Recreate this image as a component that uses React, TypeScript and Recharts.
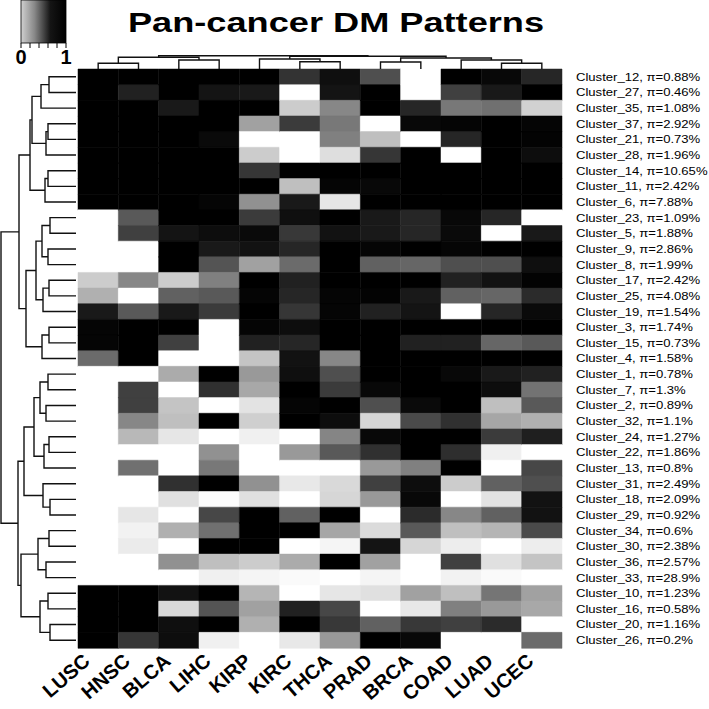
import React from 'react'
import { BarChart, Bar, Cell, XAxis, YAxis, ScatterChart, Scatter } from 'recharts'

const cancers = ['LUSC', 'HNSC', 'BLCA', 'LIHC', 'KIRP', 'KIRC', 'THCA', 'PRAD', 'BRCA', 'COAD', 'LUAD', 'UCEC']

const clusters = [
  'Cluster_12, π=0.88%', 'Cluster_27, π=0.46%', 'Cluster_35, π=1.08%', 'Cluster_37, π=2.92%',
  'Cluster_21, π=0.73%', 'Cluster_28, π=1.96%', 'Cluster_14, π=10.65%', 'Cluster_11, π=2.42%',
  'Cluster_6, π=7.88%', 'Cluster_23, π=1.09%', 'Cluster_5, π=1.88%', 'Cluster_9, π=2.86%',
  'Cluster_8, π=1.99%', 'Cluster_17, π=2.42%', 'Cluster_25, π=4.08%', 'Cluster_19, π=1.54%',
  'Cluster_3, π=1.74%', 'Cluster_15, π=0.73%', 'Cluster_4, π=1.58%', 'Cluster_1, π=0.78%',
  'Cluster_7, π=1.3%', 'Cluster_2, π=0.89%', 'Cluster_32, π=1.1%', 'Cluster_24, π=1.27%',
  'Cluster_22, π=1.86%', 'Cluster_13, π=0.8%', 'Cluster_31, π=2.49%', 'Cluster_18, π=2.09%',
  'Cluster_29, π=0.92%', 'Cluster_34, π=0.6%', 'Cluster_30, π=2.38%', 'Cluster_36, π=2.57%',
  'Cluster_33, π=28.9%', 'Cluster_10, π=1.23%', 'Cluster_16, π=0.58%', 'Cluster_20, π=1.16%',
  'Cluster_26, π=0.2%',
]

// methylation level per cluster (rows) and cancer type (columns), 0 = white, 1 = black
const levels: number[][] = [
  [1, 1, 1, 1, 1, 0.8, 0.94, 0.69, 0, 1, 0.97, 0.85],
  [1, 0.87, 1, 0.92, 0.9, 0, 0.92, 1, 0, 0.75, 0.9, 1],
  [1, 1, 0.9, 1, 1, 0.2, 0.47, 1, 0.85, 0.53, 0.56, 0.18],
  [1, 1, 1, 1, 0.37, 0.77, 0.53, 0, 0.97, 0.98, 1, 0.98],
  [1, 1, 1, 0.96, 0, 0, 0.5, 0.25, 0, 0.85, 1, 0.99],
  [1, 1, 1, 1, 0.2, 0, 0.13, 0.79, 1, 0, 1, 0.95],
  [1, 1, 1, 1, 0.79, 1, 1, 1, 1, 1, 1, 1],
  [1, 1, 1, 1, 1, 0.25, 0.98, 0.97, 1, 1, 1, 1],
  [1, 1, 1, 0.98, 0.43, 0.9, 0.1, 1, 1, 1, 1, 1],
  [0, 0.65, 1, 1, 0.77, 0.94, 1, 0.9, 0.85, 0.97, 0.85, 0],
  [0, 0.75, 0.92, 0.95, 0.96, 0.78, 0.93, 0.9, 0.85, 0.96, 0, 0.9],
  [0, 0, 1, 0.9, 0.93, 0.85, 1, 0.98, 1, 0.98, 1, 1],
  [0, 0, 1, 0.67, 0.37, 0.58, 1, 0.62, 0.6, 0.69, 0.69, 0.94],
  [0.2, 0.47, 0.2, 0.5, 1, 0.87, 1, 1, 1, 0.87, 0.93, 0.99],
  [0.31, 0, 0.62, 0.65, 0.98, 0.85, 0.98, 0.99, 0.9, 0.62, 0.6, 0.83],
  [0.9, 0.65, 0.9, 0.77, 1, 0.79, 0.98, 0.87, 0.92, 0, 0.85, 0.96],
  [0.98, 1, 1, 0, 0.98, 0.95, 1, 1, 1, 1, 1, 1],
  [0.98, 1, 0.75, 0, 0.87, 0.85, 1, 1, 0.87, 0.87, 0.6, 0.65],
  [0.58, 1, 0, 0, 0.23, 0.93, 0.47, 1, 1, 1, 1, 1],
  [0, 0, 0.33, 1, 0.4, 0.94, 0.69, 1, 1, 0.97, 0.9, 0.87],
  [0, 0.75, 0, 0.81, 0.34, 1, 0.77, 0.97, 1, 1, 0.95, 0.55],
  [0, 0.75, 0.23, 0, 0.11, 0.98, 1, 0.69, 0.96, 1, 0.25, 0.65],
  [0, 0.47, 0.25, 1, 0.19, 1, 0.95, 0.16, 0.71, 0.81, 0.35, 0.31],
  [0, 0.28, 0.1, 0, 0.06, 0, 0.48, 0.97, 1, 1, 0.77, 0.88],
  [0, 0, 0, 0.43, 0, 0.4, 0.65, 0.81, 1, 0.82, 0.06, 0],
  [0, 0.56, 0, 0.53, 0, 0, 0, 0.4, 0.5, 1, 0, 0.72],
  [0, 0, 0.81, 1, 0.43, 0.09, 0.15, 0.75, 0.95, 0.2, 0.62, 0.69],
  [0, 0, 0.12, 0.01, 0.12, 0, 0.16, 0.4, 0.97, 0, 0.11, 0.93],
  [0, 0.1, 0, 0.72, 1, 0.62, 1, 0, 0.83, 0.47, 0.62, 0.93],
  [0, 0.05, 0.31, 0.56, 1, 1, 0.35, 0.14, 0.65, 0.25, 0.29, 0.71],
  [0, 0.08, 0, 1, 1, 0, 0.04, 0.92, 0.16, 0.07, 0, 0.07],
  [0, 0, 0.43, 0.25, 0.2, 0.33, 1, 0.37, 0, 0.75, 0.12, 0.23],
  [0, 0, 0, 0.06, 0.04, 0.02, 0, 0.04, 0, 0.05, 0.02, 0],
  [1, 1, 0.93, 1, 0.29, 0, 0.1, 0.12, 0.37, 0.25, 0.54, 0.37],
  [1, 1, 0.15, 0.67, 0.37, 0.87, 0.72, 0, 0.09, 0.5, 0.4, 0.34],
  [1, 1, 0.94, 1, 0.31, 1, 0.78, 0.62, 0.78, 0.75, 0.83, 0],
  [1, 0.79, 0.95, 0.06, 0, 0.09, 0.4, 1, 0.97, 0, 0, 0.58],
]

// dendrograms: [left, right, merge height]; leaves are row / column indices
type Tree = number | [Tree, Tree, number]

const rowTree: Tree = [
  [
    [[[[0, 1, 27], 2, 35], [[3, 4, 28], 5, 30], 44], [[6, 7, 28], 8, 31], 46],
    [[[[9, 10, 26], [11, 12, 28], 34], [[13, 14, 27], 15, 33], 40], [[16, 17, 27], 18, 34], 50],
    57,
  ],
  [
    [[[[19, 20, 28], [21, 22, 30], 36], [[23, 24, 27], 25, 32], 42], [26, [27, 28, 26], 33], 52],
    [[[29, 30, 27], [31, 32, 30], 38], [[33, 34, 28], [35, 36, 26], 36], 55],
    58,
  ],
  75,
]

const colTree: Tree = [
  [[0, 1, 5.7], [2, 3, 9], 11.7],
  [[4, [5, 6, 7.3], 10], [[7, 8, 7], [9, [10, 11, 5.7], 9], 11], 12.7],
  13.3,
]

const gray = (v: number) => {
  const g = Math.round(255 * (1 - v))
  return `rgb(${g},${g},${g})`
}

// walk a tree and collect one bracket (4 points) per merge
function brackets(t: Tree, out: { pos: number; h: number }[][]): { pos: number; h: number } {
  if (typeof t === 'number') return { pos: t + 0.5, h: 0 }
  const a = brackets(t[0], out)
  const b = brackets(t[1], out)
  out.push([
    { pos: a.pos, h: a.h },
    { pos: a.pos, h: t[2] },
    { pos: b.pos, h: t[2] },
    { pos: b.pos, h: b.h },
  ])
  return { pos: (a.pos + b.pos) / 2, h: t[2] }
}

const rowBrackets: { pos: number; h: number }[][] = []
brackets(rowTree, rowBrackets)
const colBrackets: { pos: number; h: number }[][] = []
brackets(colTree, colBrackets)

const heatData = clusters.map((c) => {
  const row: Record<string, string | number> = { cluster: c }
  cancers.forEach((_, j) => (row['c' + j] = 1))
  return row
})

const font = '"Liberation Sans", Arial, Helvetica, sans-serif'
const lineStyle = { stroke: '#111', strokeWidth: 1.4 }
const noDot = () => <g />

const ClusterTick = (props: any) => {
  const { x, y, payload } = props
  return (
    <text transform={`translate(${x},${y}) scale(1.19,1)`} dy="0.36em" fontSize={11} fontFamily={font} fill="#000">
      {payload.value}
    </text>
  )
}

const CancerTick = (props: any) => {
  const { x, y, payload } = props
  const name = cancers[Math.floor(payload.value)]
  const tx = x - 7
  const ty = y + 7
  return (
    <text x={tx} y={ty} transform={`rotate(-41 ${tx} ${ty})`} textAnchor="end" fontSize={20} fontWeight="bold" fontFamily={font} fill="#000">
      {name}
    </text>
  )
}

export default function App() {
  return (
    <div style={{ position: 'fixed', left: 0, top: 0, width: 709, height: 709, background: '#fff', overflow: 'hidden' }}>
      <div style={{ position: 'absolute', left: 0, top: 0 }}>
        <BarChart
          width={709}
          height={709}
          data={heatData}
          layout="vertical"
          margin={{ top: 69, right: 7, bottom: 3, left: 78 }}
          barCategoryGap={0}
          barGap={0}
        >
          <XAxis
            type="number"
            domain={[0, 12]}
            ticks={cancers.map((_, j) => j + 0.5)}
            interval={0}
            height={58}
            axisLine={false}
            tickLine={false}
            tick={<CancerTick />}
          />
          <YAxis
            type="category"
            dataKey="cluster"
            orientation="right"
            width={140}
            interval={0}
            axisLine={false}
            tickLine={false}
            tickSize={0}
            tickMargin={14}
            tick={<ClusterTick />}
          />
          {cancers.map((c, j) => (
            <Bar key={c} dataKey={'c' + j} stackId="m" isAnimationActive={false}>
              {levels.map((row, i) => (
                <Cell key={i} fill={gray(row[j])} stroke={gray(row[j])} strokeWidth={0.5} />
              ))}
            </Bar>
          ))}
        </BarChart>
      </div>

      <div style={{ position: 'absolute', left: 0, top: 0 }}>
        <ScatterChart width={80} height={709} margin={{ top: 69, right: 4, bottom: 61, left: 0 }}>
          <XAxis type="number" dataKey="h" domain={[0, 76]} reversed hide />
          <YAxis type="number" dataKey="pos" domain={[0, 37]} reversed hide />
          {rowBrackets.map((b, i) => (
            <Scatter key={i} data={b} line={lineStyle} shape={noDot} isAnimationActive={false} />
          ))}
        </ScatterChart>
      </div>

      <div style={{ position: 'absolute', left: 0, top: 0 }}>
        <ScatterChart width={709} height={80} margin={{ top: 50, right: 147, bottom: 11, left: 78 }}>
          <XAxis type="number" dataKey="pos" domain={[0, 12]} hide />
          <YAxis type="number" dataKey="h" domain={[0, 19]} hide />
          {colBrackets.map((b, i) => (
            <Scatter key={i} data={b} line={lineStyle} shape={noDot} isAnimationActive={false} />
          ))}
        </ScatterChart>
      </div>

      <svg width={709} height={70} style={{ position: 'absolute', left: 0, top: 0 }}>
        <defs>
          <linearGradient id="cbar" x1="0" x2="1" y1="0" y2="0">
            <stop offset="0%" stopColor="#d0d0d0" />
            <stop offset="30%" stopColor="#888" />
            <stop offset="65%" stopColor="#151515" />
            <stop offset="100%" stopColor="#000" />
          </linearGradient>
        </defs>
        <rect x={21} y={0} width={45} height={43} fill="url(#cbar)" stroke="#000" strokeWidth={0.8} />
        {[0, 1, 2, 3, 4, 5].map((k) => (
          <line key={k} x1={21 + k * 9} x2={21 + k * 9} y1={43} y2={48} stroke="#000" strokeWidth={1} />
        ))}
        <text x={21} y={64} textAnchor="middle" fontSize={20} fontWeight="bold" fontFamily={font}>0</text>
        <text x={66} y={64} textAnchor="middle" fontSize={20} fontWeight="bold" fontFamily={font}>1</text>
        <text transform="translate(336,32) scale(1.34,1)" textAnchor="middle" fontSize={27} fontWeight="bold" fontFamily={font}>
          Pan-cancer DM Patterns
        </text>
      </svg>
    </div>
  )
}
